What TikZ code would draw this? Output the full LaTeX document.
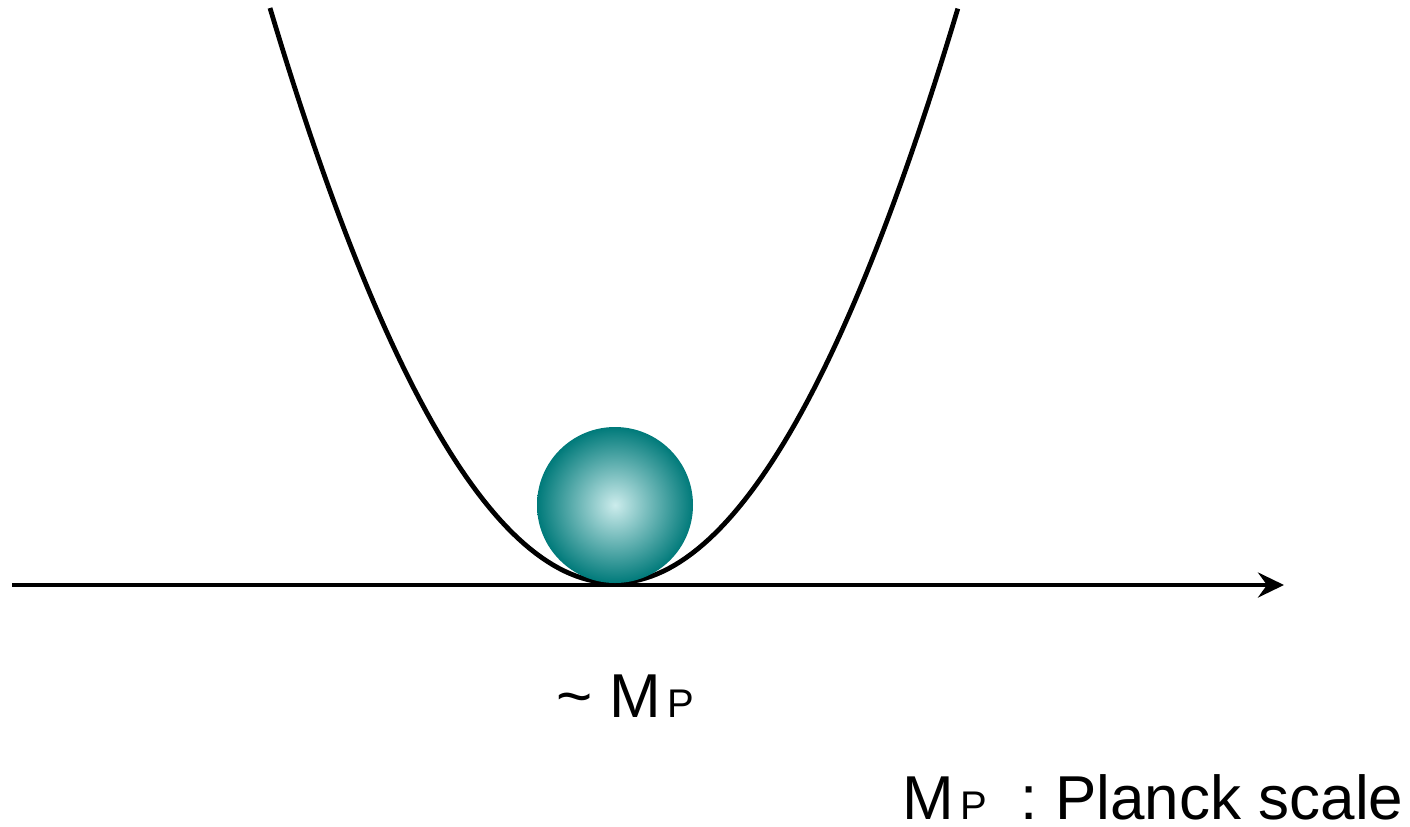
\documentclass[tikz,border=0pt]{standalone}
\usepackage{fontspec}
\setmainfont{Liberation Sans}
\usepackage{xcolor}
\usepackage{tikz}
\usetikzlibrary{
    positioning,
    arrows.meta,
}
\definecolor{ballcore}{RGB}{204,236,236}
\definecolor{balledge}{RGB}{0,122,122}
\tikzset{
    % Line styles
    axis line/.style={line width=2.4pt, -{Stealth[length=13pt, width=12.5pt, inset=4.5pt]}},
    potential/.style={line width=2.4pt, line join=round},
    % Ball style
    ball/.style={circle, minimum size=78pt, inner sep=0pt, shading=radial,
                 inner color=ballcore, outer color=balledge},
    % Text styles
    label text/.style={font=\fontsize{31}{36}\selectfont, inner sep=0pt},
}
\newcommand{\planckM}{M\kern3pt{\fontsize{20}{22}\selectfont P}}

\begin{document}
\begin{tikzpicture}[x=0.5pt, y=-0.5pt]
    \useasboundingbox (0,0) rectangle (1410,826);

    % Potential well
    \draw[potential] plot[domain=-3.44:3.44, samples=120]
        ({614+100*\x}, {583-48.59*\x*\x});

    % Axis
    \coordinate (axstart) at (12,585);
    \coordinate (axend) at (1284,585);
    \draw[axis line] (axstart) -- (axend);

    % Ball at the minimum
    \node[ball] (field) at (615,505) {};

    % Labels
    \node[label text, anchor=base west] (scale) at (556,717) {\textasciitilde\ \planckM};
    \node[label text, anchor=base west] (legend) at (902,819) {\planckM\hspace{0.55em}: Planck scale};
\end{tikzpicture}
\end{document}
